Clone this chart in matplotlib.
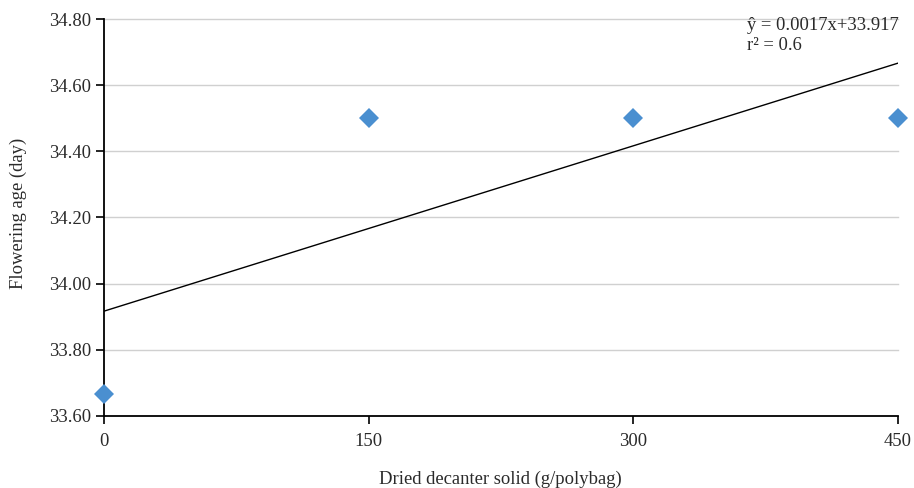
import numpy as np
import matplotlib
matplotlib.use("Agg")
import matplotlib.pyplot as plt

plt.rcParams['font.family'] = ['Liberation Serif', 'DejaVu Serif']

x_vals = [0, 150, 300, 450]
y_vals = [33.667, 34.5, 34.5, 34.5]
x_ticks = [0, 150, 300, 450]
y_ticks = [33.6, 33.8, 34.0, 34.2, 34.4, 34.6, 34.8]
equation = "ŷ = 0.0017x+33.917"
r2_text = "r² = 0.6"

FS = 13.4
TXT = '#2a2a2a'

fig = plt.figure(figsize=(9.14, 4.88), dpi=100)
ax = fig.add_axes([104/914, 1-416/488, (898-104)/914, (416-19)/488])

ax.set_xlim(0, 450)
ax.set_ylim(33.6, 34.8)
ax.set_yticks(y_ticks)
ax.set_yticklabels([f"{v:.2f}" for v in y_ticks])
ax.set_xticks(x_ticks)
ax.set_xticklabels([str(v) for v in x_ticks])

for v in y_ticks[1:]:
    ax.axhline(v, color='#d0d0d0', lw=1.0, zorder=0, clip_on=False)

coef = np.polyfit(x_vals, y_vals, 1)
xs = np.array([0, 450])
ax.plot(xs, np.polyval(coef, xs), color='black', lw=1.0, zorder=2)

ax.plot(x_vals, y_vals, linestyle='none', marker='D', markersize=10.5,
        color='#4a8fd0', markeredgewidth=0, zorder=3, clip_on=False)

for s in ['top', 'right']:
    ax.spines[s].set_visible(False)
for s in ['left', 'bottom']:
    ax.spines[s].set_linewidth(1.3)
    ax.spines[s].set_color('black')

ax.tick_params(axis='both', direction='out', length=6, width=1.2, colors='black',
               labelsize=FS, labelcolor=TXT)
ax.tick_params(axis='x', pad=6)
ax.tick_params(axis='y', pad=3)

fig.text(18/914, 1-(213)/488, "Flowering age (day)", rotation=90, ha='center', va='center',
         fontsize=FS, color=TXT)
fig.text(500/914, 1-479/488, "Dried decanter solid (g/polybag)", ha='center', va='center',
         fontsize=FS, color=TXT)

fig.text(747/914, 1-26/488, equation, ha='left', va='center', fontsize=FS, color=TXT)
fig.text(747/914, 1-46/488, r2_text, ha='left', va='center', fontsize=FS, color=TXT)

fig.savefig("out.png", dpi=100)
